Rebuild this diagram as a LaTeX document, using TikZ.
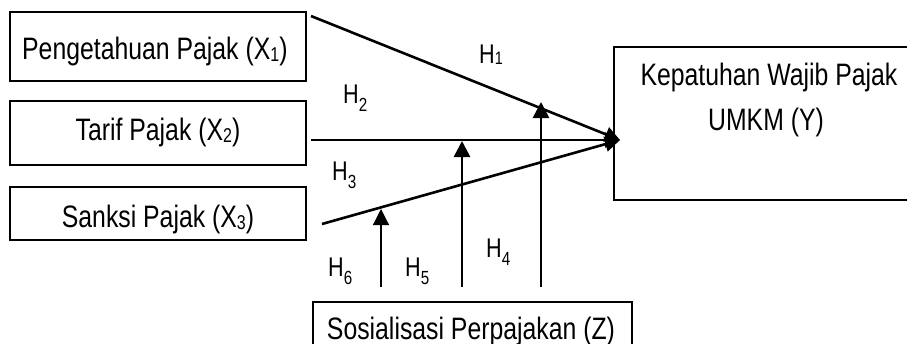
\documentclass[tikz,border=0pt]{standalone}
\usepackage{fontspec}
\setmainfont{Liberation Sans}[FakeStretch=0.8]
\usetikzlibrary{arrows.meta,calc}
\tikzset{
  box/.style={draw, line width=2.6pt, inner sep=0pt},
  conn/.style={line width=2.6pt, -{Triangle[length=15pt,width=15pt]}},
  modarr/.style={line width=2.6pt, -{Triangle[length=16pt,width=16pt]}},
  txt/.style={inner sep=0pt, anchor=base, font=\fontsize{31}{36}\selectfont},
  hlab/.style={inner sep=0pt, anchor=base west, font=\fontsize{27}{30}\selectfont},
}
\newcommand\bsub[1]{\raisebox{-2pt}{\fontsize{20}{20}\selectfont #1}}
\newcommand\hsub[1]{\raisebox{-8pt}{\fontsize{19}{19}\selectfont #1}}
\begin{document}
\begin{tikzpicture}[x=1pt,y=-1pt]
\clip (0,0) rectangle (907,343);
\fill[white] (0,0) rectangle (907,343);
% boxes
\node[box, minimum width=296pt, minimum height=69pt] (x1) at (158,46.5) {};
\node[box, minimum width=296pt, minimum height=64pt] (x2) at (158,133) {};
\node[box, minimum width=296pt, minimum height=53pt] (x3) at (158,213.5) {};
\node[box, minimum width=326pt, minimum height=153pt] (y) at (777,123.5) {};
\node[box, line width=1.5pt, minimum width=319pt, minimum height=88pt] (z) at (472.5,346) {};
% texts
\node[txt, anchor=base west] (t1) at (22,59) {Pengetahuan Pajak (X\bsub{1})};
\node[txt] (t2) at (158,140) {Tarif Pajak (X\bsub{2})};
\node[txt] (t3) at (158,227) {Sanksi Pajak (X\bsub{3})};
\node[txt] (ty1) at (769,85) {Kepatuhan Wajib Pajak};
\node[txt] (ty2) at (766,130) {UMKM (Y)};
\node[txt] (tz) at (471,339) {Sosialisasi Perpajakan (Z)};
% connector points
\coordinate (tip) at (620,140);
\coordinate (s1) at (311,16);
\coordinate (s2) at (311,140);
\coordinate (s3) at (322,224);
\draw[conn] (s1) -- (tip);
\draw[conn] (s2) -- (tip);
\draw[conn] (s3) -- (tip);
% moderating arrows
\coordinate (b6) at (381,287); \coordinate (e6) at (381,209);
\coordinate (b5) at (462,287); \coordinate (e5) at (462,141);
\coordinate (b4) at (541,287); \coordinate (e4) at (541,102);
\draw[modarr, line width=1.2pt] (b6) -- (e6);
\draw[modarr] (b5) -- (e5);
\draw[modarr] (b4) -- (e4);
% labels
\node[hlab] (h1) at (479,63) {H\raisebox{-1pt}{\fontsize{18}{18}\selectfont 1}};
\node[hlab] (h2) at (343,103) {H\hsub{2}};
\node[hlab] (h3) at (332,180) {H\hsub{3}};
\node[hlab] (h6) at (328,276) {H\hsub{6}};
\node[hlab] (h5) at (405,276) {H\hsub{5}};
\node[hlab] (h4) at (486,257) {H\hsub{4}};
\end{tikzpicture}
\end{document}
